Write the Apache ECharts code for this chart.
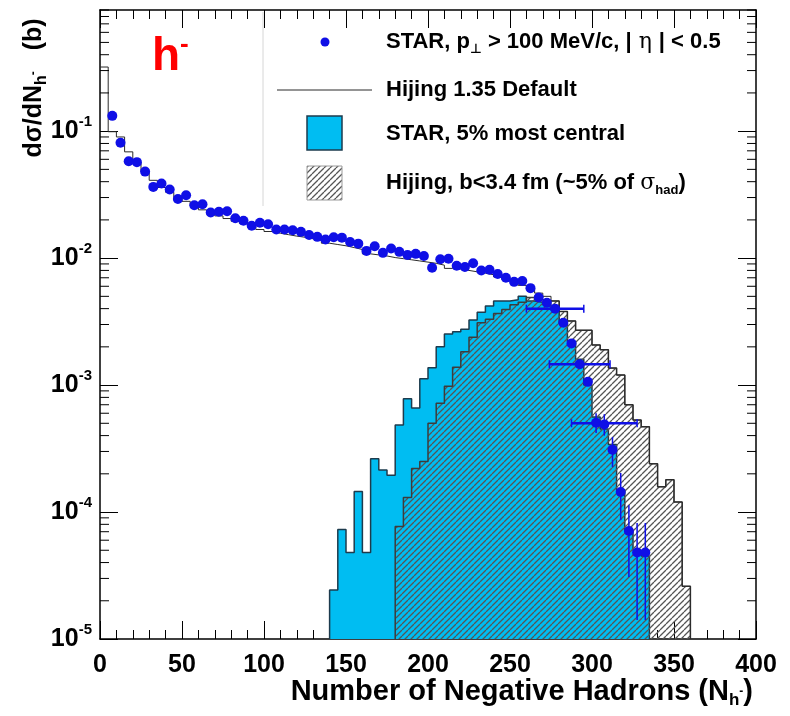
<!DOCTYPE html>
<html><head><meta charset="utf-8">
<script src="https://cdn.jsdelivr.net/npm/echarts@6/dist/echarts.min.js"></script>
<style>html,body{margin:0;padding:0;background:#fff}#c{width:790px;height:716px}</style>
</head><body><div id="c"></div>
<script>
// ---------------- data ----------------
const BIN_WIDTH = 5;
// STAR minimum-bias h- points (bin centres, dσ/dN)
const starX = [7.5,12.5,17.5,22.5,27.5,32.5,37.5,42.5,47.5,52.5,57.5,62.5,67.5,72.5,77.5,82.5,87.5,92.5,97.5,102.5,
  107.5,112.5,117.5,122.5,127.5,132.5,137.5,142.5,147.5,152.5,157.5,162.5,167.5,172.5,177.5,182.5,187.5,192.5,197.5,202.5,
  207.5,212.5,217.5,222.5,227.5,232.5,237.5,242.5,247.5,252.5,257.5,262.5,267.5,272.5,277.5,282.5,287.5,292.5,297.5,302.5,
  307.5,312.5,317.5,322.5,327.5,332.5];
const starY = [0.132,0.081,0.058,0.057,0.048,0.0364,0.0387,0.0347,0.0292,0.0313,0.0261,0.0266,0.0229,0.0232,0.0234,0.0206,0.0197,0.018,0.019,0.0185,
  0.0168,0.0168,0.0166,0.0161,0.0152,0.0147,0.014,0.0146,0.0145,0.0134,0.013,0.0114,0.0124,0.011,0.0119,0.0112,0.0106,0.0108,0.0104,0.0084,
  0.0098,0.0099,0.0087,0.0085,0.0091,0.008,0.0081,0.0075,0.007,0.0065,0.0066,0.0058,0.0049,0.00445,0.004,0.0031,0.00213,0.00146,0.00106,0.000505,
  0.00049,0.00031,0.000144,0.000071,0.000048,0.000048];
// horizontal error bars
const hErrX  = [277.5, 292.5, 307.5];
const hErrY  = [0.004, 0.00146, 0.0005];
const hErrLo = [260, 274, 287.5];
const hErrHi = [295, 311, 327.5];
// vertical error bars
const vErrX  = [302.5, 307.5, 312.5, 317.5, 322.5, 327.5, 332.5];
const vErrLo = [0.00042, 0.0004, 0.000226, 0.0000865, 0.0000308, 0.0000141, 0.0000141];
const vErrHi = [0.0006, 0.00059, 0.00039, 0.000203, 0.000113, 0.000082, 0.000082];

// Hijing 1.35 default (first bin edge 0)
const hijingFirstEdge = 0;
const hijingDefault = [0.32,0.099,0.090,0.0687,0.056,0.048,0.041,0.036,0.033,0.030,0.028,0.026,0.024,0.023,0.0215,0.0205,0.0195,0.0187,0.0178,0.0168,
  0.0162,0.0157,0.0153,0.0149,0.0146,0.0142,0.0138,0.0131,0.0128,0.0125,0.0121,0.0117,0.0108,0.0106,0.0104,0.0101,0.0099,0.0097,0.0095,0.0093,
  0.0091,0.0088,0.0083,0.0082,0.0080,0.0078,0.0076,0.0074,0.0071,0.0068,0.0065,0.0061,0.0057,0.0053,0.0050,0.0046,0.0038,0.0032,0.0027,0.0027,
  0.00207,0.0019,0.00136,0.0012,0.0007,0.00053,0.00047,0.00024,0.000158,0.00018,0.00012,0.000026];

// STAR 5% most central (first bin edge 140)
const centralFirstEdge = 140;
const starCentral = [2.43e-5,7.3e-5,4.8e-5,1.45e-4,4.8e-5,2.63e-4,2.14e-4,1.95e-4,4.84e-4,7.8e-4,6.6e-4,1.12e-3,1.37e-3,2.0e-3,2.52e-3,2.63e-3,
  2.75e-3,3.25e-3,3.75e-3,4.2e-3,4.6e-3,4.6e-3,4.7e-3,5.0e-3,4.6e-3,4.5e-3,4.3e-3,3.9e-3,3.1e-3,2.2e-3,1.6e-3,1.0e-3,5.6e-4,4.5e-4,3.4e-4,
  1.5e-4,7.2e-5,5.0e-5,4.5e-5];

// Hijing b<3.4 fm (first bin edge 180)
const hijingCentralFirstEdge = 180;
const hijingCentral = [7.7e-5,1.3e-4,2.2e-4,2.5e-4,5.0e-4,7.2e-4,9.8e-4,1.38e-3,1.83e-3,2.38e-3,3.1e-3,3.3e-3,3.67e-3,3.94e-3,4.3e-3,4.5e-3,
  4.9e-3,4.7e-3,4.6e-3,4.6e-3,3.8e-3,3.2e-3,2.7e-3,2.7e-3,2.07e-3,1.9e-3,1.36e-3,1.2e-3,7.0e-4,5.3e-4,4.7e-4,2.4e-4,1.58e-4,1.8e-4,1.2e-4,2.6e-5];

// axes
const X_MIN = 0, X_MAX = 400, X_STEP = 50;
const Y_MIN = 1e-5, Y_MAX = 0.9;
const yMajorTicks = [1e-5, 1e-4, 1e-3, 1e-2, 1e-1];

// ---------------- helpers ----------------
const FONT = "'Liberation Sans', Arial, Helvetica, sans-serif";
function histPoints(first, vals, floorStart) {
  const pts = [];
  if (floorStart) pts.push([first, Y_MIN]);
  vals.forEach((v, i) => pts.push([first + i * BIN_WIDTH, v]));
  const end = first + vals.length * BIN_WIDTH;
  pts.push([end, vals[vals.length - 1]]);
  pts.push([end, Y_MIN]);
  return pts;
}
function hatchCanvas() {
  const s = 6;
  const c = document.createElement('canvas'); c.width = s; c.height = s;
  const g = c.getContext('2d');
  g.strokeStyle = '#555555'; g.lineWidth = 1.3;
  g.beginPath();
  for (let k = -1; k <= 1; k++) { g.moveTo(k * s, s); g.lineTo(k * s + s, 0); }
  g.stroke();
  return c;
}
const hatch = hatchCanvas();
const yMinorTicks = [];
for (let e = -5; e <= -1; e++) for (let m = 2; m <= 9; m++) {
  const v = m * Math.pow(10, e); if (v <= Y_MAX * 1.0001) yMinorTicks.push(v);
}
const CYAN = '#00bdf2', BLUE = '#0f0fe6';

const chart = echarts.init(document.getElementById('c'));
const axisLineStyle = { color: '#000', width: 1.5 };
const xAxisBase = {
  type: 'value', min: X_MIN, max: X_MAX, interval: X_STEP,
  axisLine: { show: true, onZero: false, lineStyle: axisLineStyle },
  axisTick: { show: true, inside: true, length: 18, lineStyle: { color: '#000', width: 1 } },
  minorTick: { show: true, splitNumber: 5, length: 9, lineStyle: { color: '#000', width: 1 } },
  splitLine: { show: false }, minorSplitLine: { show: false }
};
const yAxisBase = {
  type: 'log', logBase: 10, min: Y_MIN, max: Y_MAX,
  axisLine: { show: true, onZero: false, lineStyle: axisLineStyle },
  axisTick: { show: true, inside: true, length: 18, customValues: yMajorTicks, lineStyle: { color: '#000', width: 1 } },
  splitLine: { show: false }
};

const option = {
  animation: false,
  backgroundColor: '#fff',
  grid: { left: 100, right: 34, top: 10, bottom: 77 },
  xAxis: [
    Object.assign({}, xAxisBase, { position: 'bottom',
      axisLabel: { fontSize: 25, fontWeight: 'bold', fontFamily: FONT, color: '#000', margin: 14 } }),
    Object.assign({}, xAxisBase, { position: 'top', axisLabel: { show: false } })
  ],
  yAxis: [
    Object.assign({}, yAxisBase, { position: 'left',
      axisLabel: {
        customValues: yMajorTicks, margin: 8,
        formatter: v => '{b|10}{s|' + Math.round(Math.log10(v)) + '}',
        rich: {
          b: { fontSize: 25, fontWeight: 'bold', fontFamily: FONT, color: '#000', lineHeight: 34 },
          s: { fontSize: 15, fontWeight: 'bold', fontFamily: FONT, color: '#000', verticalAlign: 'top', lineHeight: 16 }
        }
      } }),
    Object.assign({}, yAxisBase, { position: 'right', axisLabel: { show: false } })
  ],
  series: [
    { name: 'STAR, 5% most central', type: 'line', step: 'end', symbol: 'none', z: 2,
      data: histPoints(centralFirstEdge, starCentral, true),
      lineStyle: { color: '#1d3b4d', width: 1.5 },
      areaStyle: { color: CYAN, opacity: 1, origin: 'start' } },
    { name: 'Hijing, b<3.4 fm', type: 'line', step: 'end', symbol: 'none', z: 3,
      data: histPoints(hijingCentralFirstEdge, hijingCentral, true),
      lineStyle: { color: '#3c3c3c', width: 1.5 },
      areaStyle: { color: { image: hatch, repeat: 'repeat' }, opacity: 1, origin: 'start' } },
    { name: 'Hijing 1.35 Default', type: 'line', step: 'end', symbol: 'none', z: 4,
      data: histPoints(hijingFirstEdge, hijingDefault, false),
      lineStyle: { color: '#2a2a2a', width: 1 } },
    { type: 'custom', z: 5, silent: true, clip: true,
      data: hErrX.map((x, i) => [x, hErrY[i], hErrLo[i], hErrHi[i]]),
      encode: { x: [0, 2, 3], y: 1 },
      renderItem: (params, api) => {
        const y = api.value(1);
        const p1 = api.coord([api.value(2), y]), p2 = api.coord([api.value(3), y]);
        const st = { stroke: BLUE, lineWidth: 2.5 };
        return { type: 'group', children: [
          { type: 'line', shape: { x1: p1[0], y1: p1[1], x2: p2[0], y2: p2[1] }, style: st },
          { type: 'line', shape: { x1: p1[0], y1: p1[1] - 4, x2: p1[0], y2: p1[1] + 4 }, style: { stroke: BLUE, lineWidth: 1.5 } },
          { type: 'line', shape: { x1: p2[0], y1: p2[1] - 4, x2: p2[0], y2: p2[1] + 4 }, style: { stroke: BLUE, lineWidth: 1.5 } }
        ] };
      } },
    { type: 'custom', z: 5, silent: true, clip: true,
      data: vErrX.map((x, i) => [x, vErrLo[i], vErrHi[i]]),
      encode: { x: 0, y: [1, 2] },
      renderItem: (params, api) => {
        const x = api.value(0);
        const p1 = api.coord([x, api.value(1)]), p2 = api.coord([x, api.value(2)]);
        return { type: 'line', shape: { x1: p1[0], y1: p1[1], x2: p2[0], y2: p2[1] }, style: { stroke: BLUE, lineWidth: 1.5 } };
      } },
    { name: 'STAR', type: 'scatter', z: 6, symbol: 'circle', symbolSize: 10,
      itemStyle: { color: BLUE, opacity: 1 }, data: starX.map((x, i) => [x, starY[i]]) },
    { type: 'custom', z: 7, silent: true, clip: false,
      data: yMinorTicks.map(v => [X_MIN, v]),
      encode: { x: 0, y: 1 },
      renderItem: (params, api) => {
        const v = api.value(1);
        const p = api.coord([X_MIN, v]), q = api.coord([X_MAX, v]);
        const st = { stroke: '#000', lineWidth: 1 };
        return { type: 'group', children: [
          { type: 'line', shape: { x1: p[0], y1: p[1], x2: p[0] + 9, y2: p[1] }, style: st },
          { type: 'line', shape: { x1: q[0], y1: q[1], x2: q[0] - 9, y2: q[1] }, style: st }
        ] };
      } }
  ],
  graphic: [
    // red h- label
    { type: 'text', x: 152, y: 32, z: 20, style: {
      text: '{h|h}{m|-}', rich: {
        h: { fontSize: 46, fontWeight: 'bold', fontFamily: FONT, fill: '#ff0000', lineHeight: 50 },
        m: { fontSize: 26, fontWeight: 'bold', fontFamily: FONT, fill: '#ff0000', verticalAlign: 'top', lineHeight: 28 } } } },
    // y title (rotated)
    { type: 'text', x: 34, y: 88, rotation: Math.PI / 2, z: 20, style: {
      text: '{a|dσ/dN}{sub|h}{sup|-}{a|   (b)}', align: 'center', verticalAlign: 'middle', rich: {
        a: { fontSize: 25, fontWeight: 'bold', fontFamily: FONT, fill: '#000', lineHeight: 32 },
        sub: { fontSize: 16, fontWeight: 'bold', fontFamily: FONT, fill: '#000', verticalAlign: 'bottom', lineHeight: 18 },
        sup: { fontSize: 12, fontWeight: 'bold', fontFamily: FONT, fill: '#000', verticalAlign: 'middle', lineHeight: 14 } } } },
    // x title
    { type: 'text', x: 753, y: 692, z: 20, style: {
      text: '{a|Number of Negative Hadrons (N}{sub|h}{sup|-}{a|)}', align: 'right', verticalAlign: 'middle', rich: {
        a: { fontSize: 29, fontWeight: 'bold', fontFamily: FONT, fill: '#000', lineHeight: 34 },
        sub: { fontSize: 17, fontWeight: 'bold', fontFamily: FONT, fill: '#000', verticalAlign: 'bottom', lineHeight: 18 },
        sup: { fontSize: 12, fontWeight: 'bold', fontFamily: FONT, fill: '#000', verticalAlign: 'middle', lineHeight: 14 } } } },
    // legend frame (left edge)
    { type: 'line', z: 1, shape: { x1: 263, y1: 12, x2: 263, y2: 206 }, style: { stroke: '#d6d6d6', lineWidth: 1 } },
    // legend markers
    { type: 'circle', z: 20, shape: { cx: 325, cy: 42, r: 4.5 }, style: { fill: BLUE } },
    { type: 'line', z: 20, shape: { x1: 277, y1: 90, x2: 372, y2: 90 }, style: { stroke: '#2a2a2a', lineWidth: 1 } },
    { type: 'rect', z: 20, shape: { x: 307, y: 116, width: 35, height: 34 }, style: { fill: CYAN, stroke: '#1d3b4d', lineWidth: 1.5 } },
    { type: 'rect', z: 20, shape: { x: 307, y: 166, width: 35, height: 34 }, style: { fill: { image: hatch, repeat: 'repeat' }, stroke: '#9a9a9a', lineWidth: 1 } },
    // legend texts
    { type: 'text', x: 386, y: 42, z: 20, style: {
      text: '{t|STAR, p}{sub|⊥}{t| > 100 MeV/c, |}{g| η }{t|| < 0.5}', verticalAlign: 'middle', rich: {
        t: { fontSize: 22, fontWeight: 'bold', fontFamily: FONT, fill: '#000', lineHeight: 28 },
        sub: { fontSize: 13, fontWeight: 'bold', fontFamily: "'DejaVu Sans', sans-serif", fill: '#000', verticalAlign: 'bottom', lineHeight: 14 },
        g: { fontSize: 22, fontFamily: "'DejaVu Serif', serif", fill: '#000', lineHeight: 28 } } } },
    { type: 'text', x: 386, y: 90, z: 20, style: { text: 'Hijing 1.35 Default', verticalAlign: 'middle',
      fontSize: 22, fontWeight: 'bold', fontFamily: FONT, fill: '#000' } },
    { type: 'text', x: 386, y: 134, z: 20, style: { text: 'STAR, 5% most central', verticalAlign: 'middle',
      fontSize: 22, fontWeight: 'bold', fontFamily: FONT, fill: '#000' } },
    { type: 'text', x: 386, y: 183, z: 20, style: {
      text: '{t|Hijing, b<3.4 fm (~5% of }{g|σ}{sub|had}{t|)}', verticalAlign: 'middle', rich: {
        t: { fontSize: 22, fontWeight: 'bold', fontFamily: FONT, fill: '#000', lineHeight: 28 },
        g: { fontSize: 22, fontFamily: "'DejaVu Serif', serif", fill: '#000', lineHeight: 28 },
        sub: { fontSize: 13, fontWeight: 'bold', fontFamily: FONT, fill: '#000', verticalAlign: 'bottom', lineHeight: 14 } } } }
  ]
};
chart.setOption(option);
</script>
</body></html>
